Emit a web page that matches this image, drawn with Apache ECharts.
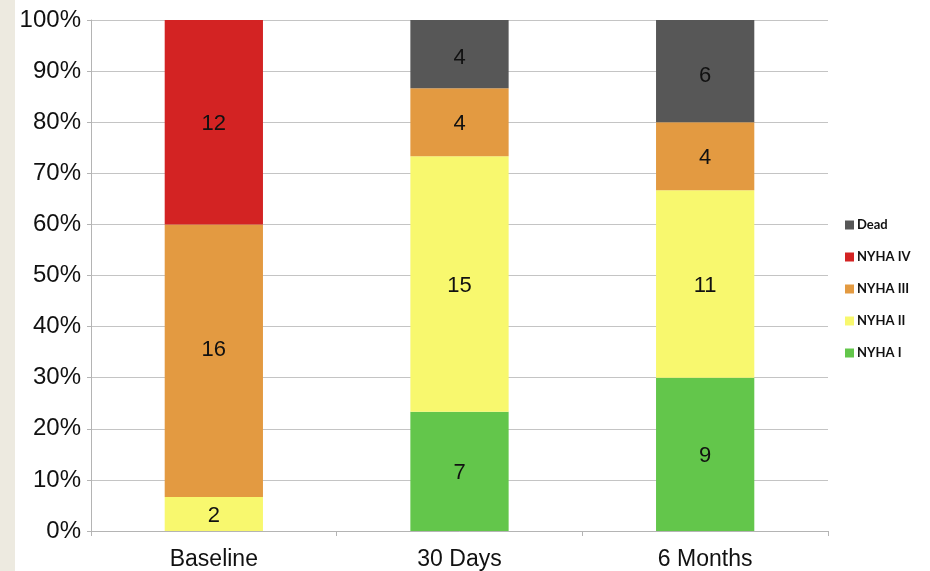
<!DOCTYPE html>
<html>
<head>
<meta charset="utf-8">
<script src="https://cdn.jsdelivr.net/npm/echarts@6/dist/echarts.min.js"></script>
<style>
  html, body { margin: 0; padding: 0; background: #ffffff; }
  #chart { width: 930px; height: 571px; }
</style>
</head>
<body>
<div id="chart"></div>
<script>
// Patients per NYHA class at each follow-up point (30 patients per column)
const categories = ['Baseline', '30 Days', '6 Months'];
const nyhaI   = [0, 7, 9];
const nyhaII  = [2, 15, 11];
const nyhaIII = [16, 4, 4];
const nyhaIV  = [12, 0, 0];
const dead    = [0, 4, 6];
const totalPatients = 30;
const tickLabels = ['0%', '10%', '20%', '30%', '40%', '50%', '60%', '70%', '80%', '90%', '100%'];

const colors = {
  'NYHA I': '#63c64b',
  'NYHA II': '#f8f86e',
  'NYHA III': '#e39a41',
  'NYHA IV': '#d32323',
  'Dead': '#575757'
};

// per-segment label nudges (series name -> category index -> [dx, dy])
const labelNudge = {
  'NYHA III': { 0: [0, -13] },
  'Dead': { 1: [0, 2], 2: [0, 3] }
};

const chart = echarts.init(document.getElementById('chart'), null, { renderer: 'canvas' });

function makeSeries(name, values) {
  const nudges = labelNudge[name] || {};
  return {
    name: name,
    type: 'bar',
    stack: 'total',
    barWidth: '40%',
    data: values.map((v, i) => nudges[i]
      ? { value: v, label: { offset: [nudges[i][0], nudges[i][1] + 2] } }
      : v),
    itemStyle: { color: colors[name] },
    label: {
      show: true,
      position: 'inside',
      offset: [0, 2],
      color: '#111111',
      fontFamily: 'Liberation Sans, Arial, sans-serif',
      fontSize: 22,
      formatter: p => (p.value > 0 ? String(p.value) : '')
    },
    emphasis: { disabled: true }
  };
}

const option = {
  backgroundColor: '#ffffff',
  animation: false,
  graphic: [{
    type: 'rect',
    left: 0,
    top: 0,
    shape: { width: 15, height: 571 },
    style: { fill: '#edeae0' },
    z: -10
  }],
  grid: { left: 91, right: 102, top: 20, bottom: 40 },
  legend: {
    orient: 'vertical',
    left: 845,
    top: 218,
    padding: 0,
    itemWidth: 9,
    itemHeight: 9,
    itemGap: 18,
    icon: 'rect',
    data: ['Dead', 'NYHA IV', 'NYHA III', 'NYHA II', 'NYHA I'],
    textStyle: {
      fontFamily: 'Lato, sans-serif',
      fontWeight: 'bold',
      fontSize: 13,
      lineHeight: 14,
      color: '#111111',
      padding: [0, 0, 0, -2]
    }
  },
  xAxis: {
    type: 'category',
    data: categories,
    axisLine: { lineStyle: { color: '#b4b4b4', width: 1 } },
    axisTick: { show: true, alignWithLabel: false, length: 5, lineStyle: { color: '#b4b4b4' } },
    axisLabel: {
      color: '#111111',
      fontFamily: 'Liberation Sans, Arial, sans-serif',
      fontSize: 23,
      margin: 17
    }
  },
  yAxis: {
    type: 'value',
    min: 0,
    max: totalPatients,
    interval: totalPatients / 10,
    axisLine: { show: true, lineStyle: { color: '#b4b4b4', width: 1 } },
    axisTick: { show: true, length: 4, lineStyle: { color: '#b4b4b4' } },
    splitLine: { show: true, lineStyle: { color: '#c4c4c4', width: 1 } },
    axisLabel: {
      color: '#111111',
      fontFamily: 'Liberation Sans, Arial, sans-serif',
      fontSize: 24,
      margin: 10,
      formatter: v => tickLabels[Math.round(v / (totalPatients / 10))]
    }
  },
  series: [
    makeSeries('NYHA I', nyhaI),
    makeSeries('NYHA II', nyhaII),
    makeSeries('NYHA III', nyhaIII),
    makeSeries('NYHA IV', nyhaIV),
    makeSeries('Dead', dead)
  ]
};

chart.setOption(option);
</script>
</body>
</html>
